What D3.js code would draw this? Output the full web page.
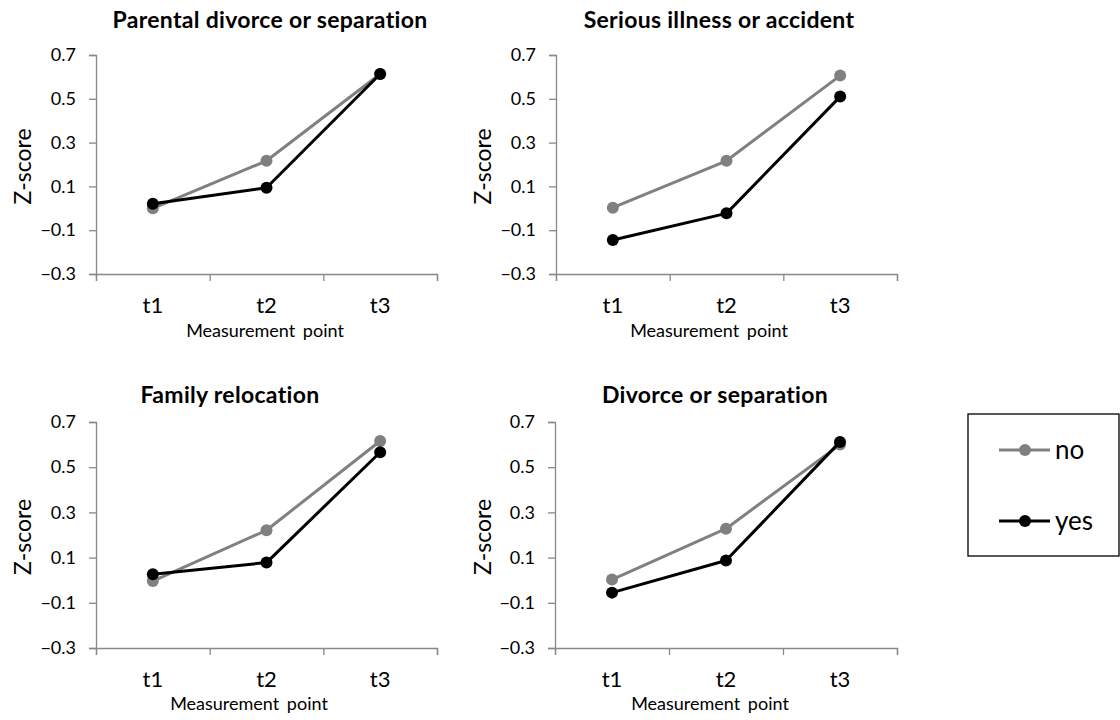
<!DOCTYPE html>
<html>
<head>
<meta charset="utf-8">
<script src="https://cdn.jsdelivr.net/npm/d3@7"></script>
<style>
  html, body { margin: 0; padding: 0; background: #fff; }
  svg { display: block; font-family: Lato, "Open Sans", sans-serif; font-variant-ligatures: none; }
</style>
</head>
<body>
<svg id="chart" width="1120" height="720"></svg>
<script>
// ---- data ----
const categories = ["t1", "t2", "t3"];
const panelTitles = [
  "Parental divorce or separation",
  "Serious illness or accident",
  "Family relocation",
  "Divorce or separation"
];
const seriesNames = ["no", "yes"];
const noValues = [
  [0.00, 0.217, 0.613],
  [0.003, 0.217, 0.606],
  [-0.004, 0.221, 0.616],
  [0.003, 0.228, 0.600]
];
const yesValues = [
  [0.021, 0.094, 0.613],
  [-0.145, -0.023, 0.510],
  [0.026, 0.078, 0.566],
  [-0.055, 0.087, 0.612]
];
const yTicks = [-0.3, -0.1, 0.1, 0.3, 0.5, 0.7];
const yAxisTitle = "Z-score";
const xAxisTitle = "Measurement point";

// ---- layout (positions / styles) ----
const panels = [
  { x0: 96,  x1: 437, y0: 55,  y1: 274, titleX: 270, titleY: 28,  xtX: 265, xtY: 337, ztX: 23 },
  { x0: 556, x1: 897, y0: 55,  y1: 274, titleX: 719, titleY: 28,  xtX: 709, xtY: 337, ztX: 483 },
  { x0: 96,  x1: 437, y0: 422, y1: 648, titleX: 230, titleY: 403, xtX: 249, xtY: 710, ztX: 23 },
  { x0: 555, x1: 897, y0: 422, y1: 648, titleX: 715, titleY: 403, xtX: 710, xtY: 710, ztX: 483 }
];
const colors = { no: "#808080", yes: "#000000" };
const axisColor = "#888888";

const svg = d3.select("#chart");

panels.forEach((p, i) => {
  const g = svg.append("g");
  const x = d3.scaleBand().domain(categories).range([p.x0, p.x1]);
  const xEdge = d3.scaleLinear().domain([0, categories.length]).range([p.x0, p.x1]);
  const y = d3.scaleLinear().domain([-0.3, 0.7]).range([p.y1, p.y0]);

  // y axis
  const ya = g.append("g").attr("transform", `translate(${p.x0},0)`)
    .call(d3.axisLeft(y).tickValues(yTicks).tickSize(7).tickPadding(13).tickFormat(d3.format(".1f")));
  ya.select(".domain").attr("stroke", axisColor).attr("stroke-width", 1.3);
  ya.selectAll(".tick line").attr("stroke", axisColor).attr("stroke-width", 1.3);
  ya.selectAll(".tick text").attr("font-size", 18).attr("fill", "#000").attr("font-family", "Lato");

  // x axis: boundary ticks
  const xa = g.append("g").attr("transform", `translate(0,${p.y1})`)
    .call(d3.axisBottom(xEdge).tickValues(d3.range(categories.length + 1)).tickSize(7).tickFormat(""));
  xa.select(".domain").attr("stroke", axisColor).attr("stroke-width", 1.3);
  xa.selectAll(".tick line").attr("stroke", axisColor).attr("stroke-width", 1.3);

  // x labels
  const xl = g.append("g").attr("transform", `translate(0,${p.y1})`)
    .call(d3.axisBottom(x).tickSize(0).tickPadding(23));
  xl.select(".domain").remove();
  xl.selectAll(".tick text").attr("font-size", 22).attr("fill", "#000").attr("font-family", "Lato");

  // titles
  g.append("text").attr("x", p.titleX).attr("y", p.titleY).attr("text-anchor", "middle")
    .attr("font-size", 23).attr("font-weight", "bold").attr("letter-spacing", 0.3).text(panelTitles[i]);
  g.append("text").attr("x", p.xtX).attr("y", p.xtY).attr("text-anchor", "middle")
    .attr("font-size", 18).attr("word-spacing", 3).text(xAxisTitle);
  const zc = (p.y0 + p.y1) / 2 + 2;
  g.append("text").attr("transform", `translate(${p.ztX + 8},${zc}) rotate(-90)`)
    .attr("text-anchor", "middle").attr("font-size", 23).text(yAxisTitle);

  // series
  const series = [
    { name: "no", values: noValues[i] },
    { name: "yes", values: yesValues[i] }
  ];
  const line = d3.line().x((d, j) => x(categories[j]) + x.bandwidth() / 2).y(d => y(d));
  series.forEach(s => {
    g.append("path").datum(s.values).attr("d", line)
      .attr("fill", "none").attr("stroke", colors[s.name]).attr("stroke-width", 3)
      .attr("stroke-linejoin", "round");
    g.selectAll(null).data(s.values).enter().append("circle")
      .attr("cx", (d, j) => x(categories[j]) + x.bandwidth() / 2)
      .attr("cy", d => y(d)).attr("r", 6).attr("fill", colors[s.name]);
  });
});

// legend
const lg = svg.append("g");
lg.append("rect").attr("x", 968).attr("y", 414).attr("width", 151).attr("height", 142)
  .attr("fill", "#fff").attr("stroke", "#000").attr("stroke-width", 1.3);
const legendY = d3.scalePoint().domain(seriesNames).range([450, 521]);
seriesNames.forEach(n => {
  const yy = legendY(n);
  lg.append("line").attr("x1", 999).attr("x2", 1050).attr("y1", yy).attr("y2", yy)
    .attr("stroke", colors[n]).attr("stroke-width", 3);
  lg.append("circle").attr("cx", 1025).attr("cy", yy).attr("r", 6).attr("fill", colors[n]);
  lg.append("text").attr("x", 1055).attr("y", yy + 9).attr("font-size", 26).text(n);
});
</script>
</body>
</html>
